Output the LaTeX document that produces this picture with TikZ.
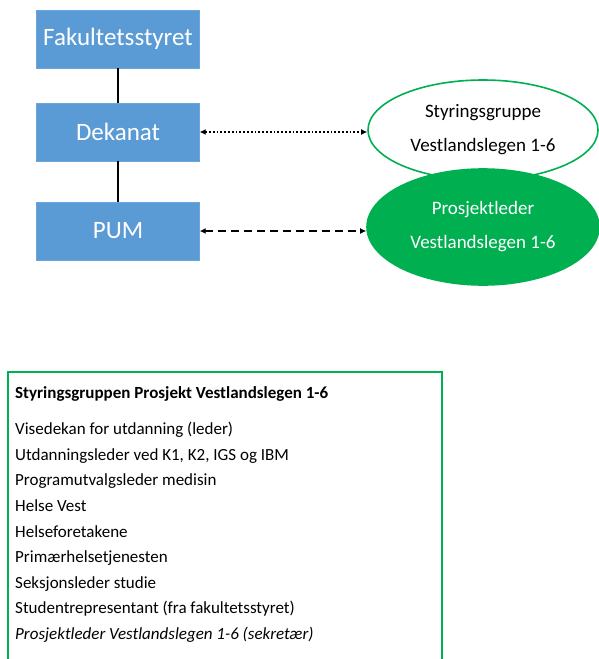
\documentclass[tikz,border=0pt]{standalone}
\usepackage{fontspec}
\setmainfont{Carlito}
\usetikzlibrary{arrows.meta,shapes.geometric}

\definecolor{boxblue}{HTML}{5B9BD5}
\definecolor{vgreen}{HTML}{00B050}

\tikzset{
  unit/.style={rectangle, fill=boxblue, draw=boxblue!90!white, text=white,
    minimum width=163pt, minimum height=58pt, font=\fontsize{25}{28}\selectfont},
  group/.style={ellipse, draw=vgreen, line width=1.6pt, align=center,
    font=\fontsize{19}{22}\selectfont},
  link/.style={line width=1.8pt, black, {Latex[length=6pt,width=6pt]}-{Latex[length=6pt,width=6pt]}}
}

\begin{document}
\begin{tikzpicture}[x=1pt,y=-1pt]
    \useasboundingbox (0,0) rectangle (598,659);

    \node[unit] (fak) at (118,39) {Fakultetsstyret};
    \node[unit] (dekanat) at (118,132) {Dekanat};
    \node[unit] (pum) at (118,231) {PUM};

    \node[group, fill=white, minimum width=230pt, minimum height=100pt] (styr) at (483,130)
      {Styringsgruppe\\[12pt]Vestlandslegen 1-6};
    \node[group, fill=vgreen, text=white, minimum width=232pt, minimum height=116pt] (prosj) at (483,227)
      {Prosjektleder\\[12pt]Vestlandslegen 1-6};

    \draw[line width=1.3pt] (fak) -- (dekanat);
    \draw[line width=1.3pt] (dekanat) -- (pum);
    \draw[link, dotted] (dekanat.east) -- (dekanat.east -| styr.west);
    \draw[link, dash pattern=on 8pt off 5pt] (pum.east) -- (pum.east -| prosj.west);

    % members of the steering group
    \draw[vgreen, line width=1.6pt] (8,670) |- (442,372) -- (442,670);
    \node[anchor=north west, align=left, inner sep=0pt, font=\fontsize{17}{25.6}\selectfont] (members) at (15,386)
      {\textbf{Styringsgruppen Prosjekt Vestlandslegen 1-6}\\[11pt]
       Visedekan for utdanning (leder)\\
       Utdanningsleder ved K1, K2, IGS og IBM\\
       Programutvalgsleder medisin\\
       Helse Vest\\
       Helseforetakene\\
       Primærhelsetjenesten\\
       Seksjonsleder studie\\
       Studentrepresentant (fra fakultetsstyret)\\
       \textit{Prosjektleder Vestlandslegen 1-6 (sekretær)}};
\end{tikzpicture}
\end{document}
